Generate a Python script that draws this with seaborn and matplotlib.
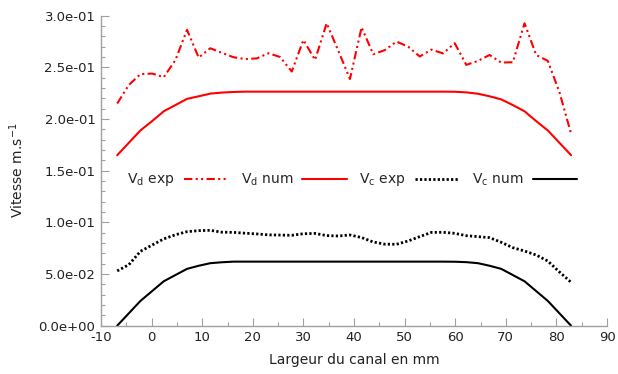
import matplotlib
matplotlib.use("Agg")
import matplotlib.pyplot as plt
import matplotlib.ticker as mticker
import seaborn as sns
import pandas as pd

x_mm = [-6.8, -4.5, -2.2, 0.1, 2.4, 4.7, 7.0, 9.3, 11.6, 13.9, 16.2, 18.5, 20.8, 23.1,
        25.4, 27.7, 30.0, 32.3, 34.6, 36.9, 39.2, 41.5, 43.8, 46.1, 48.4, 50.7, 53.0,
        55.3, 57.6, 59.9, 62.2, 64.5, 66.8, 69.1, 71.4, 73.7, 76.0, 78.3, 80.6, 82.9]

vd_exp = [0.215, 0.233, 0.2435, 0.244, 0.2405, 0.257, 0.2863, 0.2595, 0.2685, 0.264,
          0.2598, 0.258, 0.2587, 0.2637, 0.260, 0.246, 0.2765, 0.2572, 0.2927, 0.266,
          0.2387, 0.2888, 0.2627, 0.2667, 0.275, 0.270, 0.2605, 0.2672, 0.2635, 0.2734,
          0.2524, 0.2563, 0.262, 0.2546, 0.255, 0.2927, 0.262, 0.2563, 0.226, 0.1858]

vd_num = [0.165, 0.177, 0.189, 0.198, 0.2075, 0.2135, 0.2195, 0.222, 0.2246, 0.2256,
          0.2262, 0.2265, 0.2265, 0.2265, 0.2265, 0.2265, 0.2265, 0.2265, 0.2265, 0.2265,
          0.2265, 0.2265, 0.2265, 0.2265, 0.2265, 0.2265, 0.2265, 0.2265, 0.2265, 0.2264,
          0.2258, 0.2245, 0.222, 0.219, 0.2135, 0.2075, 0.198, 0.189, 0.177, 0.165]

vc_exp = [0.053, 0.059, 0.072, 0.078, 0.084, 0.088, 0.091, 0.092, 0.0923, 0.0905,
          0.0903, 0.0895, 0.0888, 0.0879, 0.0877, 0.0875, 0.089, 0.0893, 0.0872, 0.0868,
          0.0878, 0.0853, 0.081, 0.0789, 0.0788, 0.082, 0.0862, 0.0903, 0.0904, 0.0894,
          0.0871, 0.0862, 0.0852, 0.0807, 0.0755, 0.0723, 0.0684, 0.0626, 0.052, 0.042]

vc_num = [0.0, 0.012, 0.024, 0.0335, 0.043, 0.049, 0.055, 0.058, 0.0605, 0.0614,
          0.062, 0.062, 0.062, 0.062, 0.062, 0.062, 0.062, 0.062, 0.062, 0.062,
          0.062, 0.062, 0.062, 0.062, 0.062, 0.062, 0.062, 0.062, 0.062, 0.0619,
          0.0615, 0.0605, 0.058, 0.055, 0.049, 0.043, 0.0335, 0.024, 0.012, 0.0]

labels = [r"V$_\mathrm{d}$ exp", r"V$_\mathrm{d}$ num", r"V$_\mathrm{c}$ exp", r"V$_\mathrm{c}$ num"]
series = [vd_exp, vd_num, vc_exp, vc_num]

sns.set_theme(style="ticks")
plt.rcParams['font.family'] = ['DejaVu Sans']
plt.rcParams['axes.unicode_minus'] = False

fig = plt.figure(figsize=(6.18, 3.74), dpi=100)
ax = fig.add_axes([101 / 618, 48.3 / 374, 506 / 618, 310 / 374])

styles = [
    dict(color="#ff0000", lw=1.5, dashes=(4, 1.6, 1, 1.6, 1, 1.6)),
    dict(color="#ff0000", lw=1.5, dashes=None),
    dict(color="#000000", lw=2.0, dashes=(0.8, 0.8)),
    dict(color="#000000", lw=1.5, dashes=None),
]

for lab, vals, st in zip(labels, series, styles):
    df = pd.DataFrame({"x": x_mm, "y": vals})
    line_ax = sns.lineplot(data=df, x="x", y="y", ax=ax, color=st["color"],
                           linewidth=st["lw"], label=lab, sort=False)
    ln = line_ax.get_lines()[-1]
    if st["dashes"] is not None:
        ln.set_dashes(st["dashes"])

ax.set_xlim(-10, 90)
ax.set_ylim(0, 0.3)
ax.xaxis.set_major_locator(mticker.MultipleLocator(10))
ax.xaxis.set_minor_locator(mticker.MultipleLocator(5))
ax.yaxis.set_major_locator(mticker.MultipleLocator(0.05))
ax.yaxis.set_minor_locator(mticker.MultipleLocator(0.01))
ax.yaxis.set_major_formatter(mticker.FormatStrFormatter("%.1e"))

for s in ["top", "right"]:
    ax.spines[s].set_visible(False)
for s in ["left", "bottom"]:
    ax.spines[s].set_color("#a0a0a0")
    ax.spines[s].set_linewidth(1.0)

ax.tick_params(axis="both", which="major", direction="in", length=6, width=0.8,
               color="#a0a0a0", labelsize=9.5, labelcolor="#222222", pad=4)
ax.tick_params(axis="both", which="minor", direction="in", length=3, width=0.8,
               color="#a0a0a0")

ax.set_xlabel("Largeur du canal en mm", fontsize=10, color="#222222", labelpad=6)
ax.set_ylabel(r"Vitesse m.s$^{-1}$", fontsize=10, color="#222222", labelpad=9)

leg = ax.legend(loc="center", bbox_to_anchor=(0.4966, 0.47), ncol=4, frameon=False,
                markerfirst=False, fontsize=10, handlelength=3.2, columnspacing=0.9,
                handletextpad=0.65)

fig.savefig("out.png", dpi=100)
